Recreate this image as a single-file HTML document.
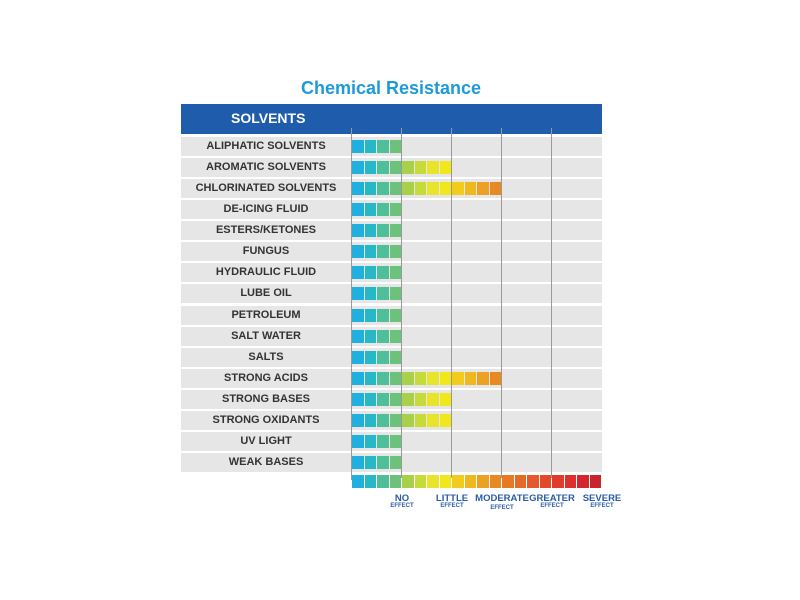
<!DOCTYPE html>
<html><head><meta charset="utf-8"><style>
body{margin:0;background:#fff;width:800px;height:600px;position:relative;overflow:hidden;font-family:"Liberation Sans",sans-serif}
.t{position:absolute;white-space:nowrap}
</style></head><body>
<div class="t" style="left:0;width:782px;text-align:center;top:78px;font-size:18px;font-weight:bold;color:#1d9ad8">Chemical Resistance</div>
<div style="position:absolute;left:181px;top:104px;width:421px;height:30px;background:#1f5dac"></div>
<div class="t" style="left:231px;top:110px;font-size:14px;font-weight:bold;color:#fff">SOLVENTS</div>
<div id="chart"></div>
<script>
const categories=["ALIPHATIC SOLVENTS","AROMATIC SOLVENTS","CHLORINATED SOLVENTS","DE-ICING FLUID","ESTERS/KETONES","FUNGUS","HYDRAULIC FLUID","LUBE OIL","PETROLEUM","SALT WATER","SALTS","STRONG ACIDS","STRONG BASES","STRONG OXIDANTS","UV LIGHT","WEAK BASES"];
const values=[4,8,12,4,4,4,4,4,4,4,4,12,8,8,4,4];
const scaleLabels=["NO","LITTLE","MODERATE","GREATER","SEVERE"];
const scaleSub=["EFFECT","EFFECT","EFFECT","EFFECT","EFFECT"];
const colors=["#1fb0e0","#27b8c8","#4fbf9a","#6cc27a","#a8d04a","#c6da3a","#e8e42a","#f1e81c","#f2cc1c","#f0b820","#eca024","#e88a24","#e67826","#e46a28","#e45a2a","#e24a2a","#e23a2c","#de2e2e","#d4262e","#c8242e"];
const c=document.getElementById('chart');
const x0=352,segW=12.5,rowY0=137,pitch=21.07;
const xs=i=>x0+i*segW;
const ys=i=>rowY0+i*pitch;
function box(l,t,w,h,bg){const d=document.createElement('div');d.style.cssText=`position:absolute;left:${l}px;top:${t}px;width:${w}px;height:${h}px;background:${bg}`;c.appendChild(d);return d;}
categories.forEach((cat,i)=>{
 const r=box(181,ys(i),421,19,'#e6e6e6');
 
 
 const l=document.createElement('div');l.className='t';
 l.style.cssText=`left:181px;width:170px;text-align:center;top:${ys(i)+3}px;font-size:11px;font-weight:bold;color:#333`;
 l.textContent=cat;
 
 
 c.appendChild(l);
 for(let s=0;s<values[i];s++){
  const b=box(xs(s),ys(i)+3,segW-1,13,colors[s]);
  
  
 }
});
const sy=ys(16)+1;
colors.forEach((col,s)=>{
 const b=box(xs(s),sy,segW-1,13,col);
 
 
});
for(let k=0;k<5;k++){
 const g=box(xs(k*4)-1,128,1,k==0?352:350,'#999');
 
 
}
scaleLabels.forEach((t,k)=>{
 const cx=xs((k+1)*4);
 const a=document.createElement('div');a.className='t';
 a.style.cssText=`left:${cx-40}px;width:80px;text-align:center;top:493px;font-size:9.5px;font-weight:bold;color:#2a5da8`;
 a.textContent=t;
 
 
 c.appendChild(a);
 const b=document.createElement('div');b.className='t';
 b.style.cssText=`left:${cx-40}px;width:80px;text-align:center;top:${k==2?505:503}px;font-size:6px;font-weight:bold;color:#2a5da8`;
 b.textContent=scaleSub[k];
 
 
 c.appendChild(b);
});
</script>
</body></html>
